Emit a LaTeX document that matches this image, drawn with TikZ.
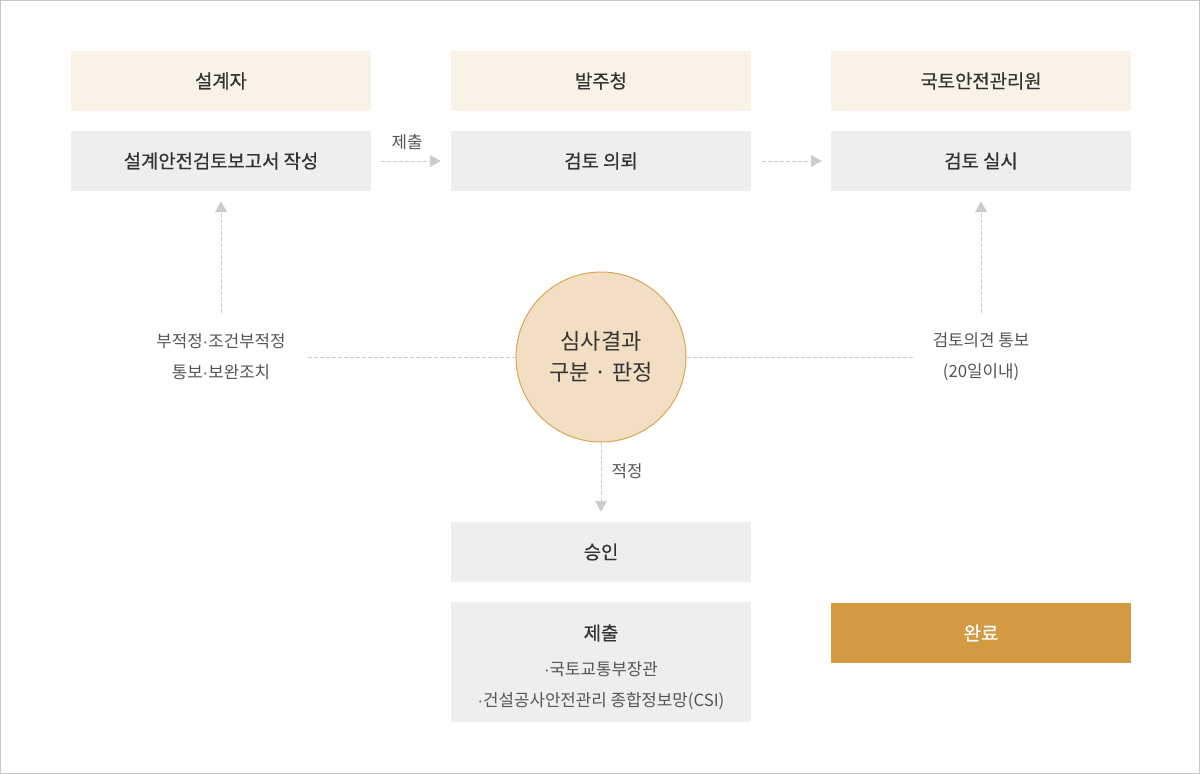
\documentclass[tikz,border=0pt]{standalone}
\usepackage{fontspec}
\setmainfont{Noto Sans CJK KR}
\newfontfamily\krtitle[FakeBold=0.6]{Noto Sans CJK KR}
\newfontfamily\dotfont{Liberation Sans}
\newcommand\md{{\dotfont ·}}
\usetikzlibrary{arrows.meta}
\definecolor{framec}{HTML}{C8C8C8}
\definecolor{headc}{HTML}{F9F2E7}
\definecolor{grayc}{HTML}{EEEEEE}
\definecolor{circfill}{HTML}{F2DFC3}
\definecolor{circdraw}{HTML}{D9A556}
\definecolor{donec}{HTML}{D39A42}
\definecolor{linec}{HTML}{CCCCCC}
\definecolor{titletext}{HTML}{333333}
\definecolor{labeltext}{HTML}{555555}
\tikzset{
  titlefont/.style={font=\krtitle\fontsize{18.8}{22}\selectfont},
  headbox/.style={minimum width=300pt,minimum height=60pt,inner sep=0pt,fill=headc,text=titletext,titlefont},
  graybox/.style={minimum width=300pt,minimum height=60pt,inner sep=0pt,fill=grayc,text=titletext,titlefont},
  donebox/.style={minimum width=300pt,minimum height=60pt,inner sep=0pt,fill=donec,text=white,titlefont},
  lbl/.style={text=labeltext,font=\fontsize{16.8}{31}\selectfont,align=center,inner sep=0pt},
  conn/.style={draw=linec,line width=0.9pt,dash pattern=on 4pt off 2pt},
  arr/.style={conn,-{Triangle[width=12pt,length=11pt,fill=linec,color=linec]}},
}
\begin{document}
\begin{tikzpicture}[x=1pt,y=-1pt]
\useasboundingbox (0,0) rectangle (1200,774);
\draw[framec,line width=1pt] (0.5,0.5) rectangle (1199.5,773.5);
% headers
\node[headbox] (h1) at (221,81) {설계자};
\node[headbox] (h2) at (601,81) {발주청};
\node[headbox] (h3) at (981,81) {국토안전관리원};
% second row
\node[graybox] (b1) at (221,161) {설계안전검토보고서 작성};
\node[graybox] (b2) at (601,161) {검토 의뢰};
\node[graybox] (b3) at (981,161) {검토 실시};
% circle
\node[circle,minimum size=170pt,inner sep=0pt,fill=circfill,draw=circdraw,line width=1pt,text=titletext,align=center,font=\fontsize{22}{31}\selectfont] (c) at (601,357) {심사결과\\구분 · 판정};
% bottom boxes
\node[graybox] (ok) at (601,552) {승인};
\node[graybox,minimum height=120pt] (sub) at (601,662) {};
\node[text=titletext,titlefont,inner sep=0pt] (subt) at (601,633) {제출};
\node[lbl] (subl) at (601,686) {\md 국토교통부장관\\\md 건설공사안전관리 종합정보망(CSI)};
\node[donebox] (done) at (981,633) {완료};
% labels
\node[lbl] (ll) at (221,357) {부적정\md 조건부적정\\통보\md 보완조치};
\node[lbl] (rl) at (981,357) {검토의견 통보\\(20일이내)};
\node[lbl] (t1) at (407,142) {제출};
\node[lbl] (t2) at (627,471) {적정};
% connectors
\coordinate (lend) at (306,357);
\coordinate (lup) at (221,313);
\coordinate (rend) at (913,357);
\coordinate (rup) at (981,313);
\draw[arr,shorten <=10pt,shorten >=10pt] (b1.east) -- (b2.west);
\draw[arr,shorten <=11pt,shorten >=9pt] (b2.east) -- (b3.west);
\draw[conn] (c.west) -- (lend);
\draw[arr,shorten >=10pt] (lup) -- (b1.south);
\draw[conn] (c.east) -- (rend);
\draw[arr,shorten >=10pt] (rup) -- (b3.south);
\draw[arr,shorten >=10pt] (c.south) -- (ok.north);
\end{tikzpicture}
\end{document}
